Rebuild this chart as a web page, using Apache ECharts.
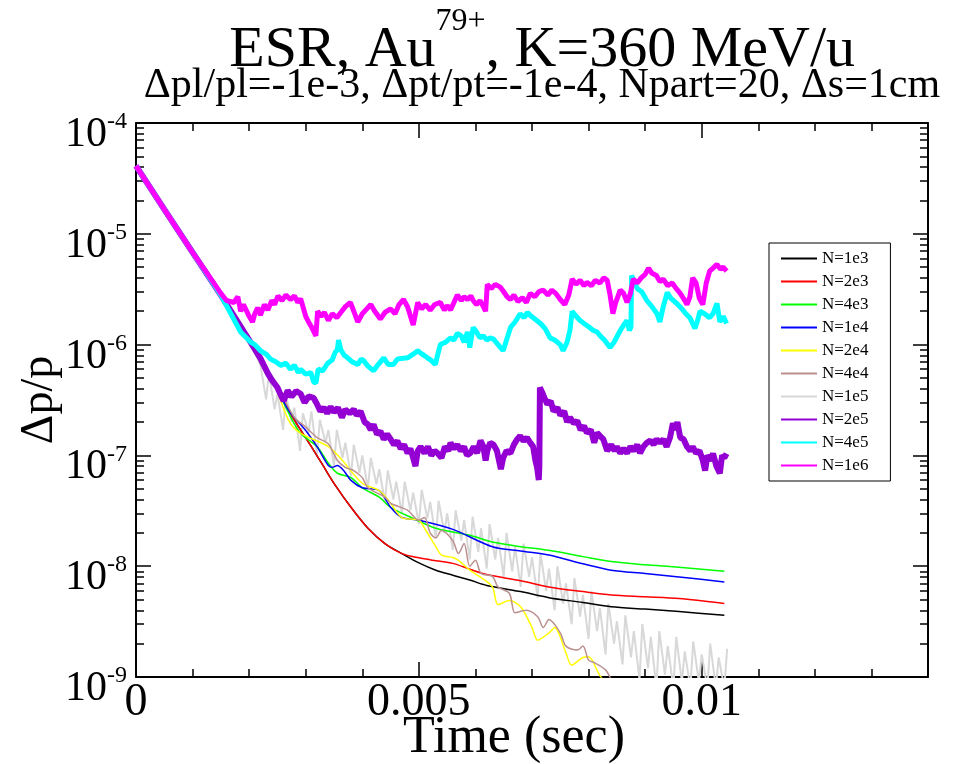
<!DOCTYPE html>
<html>
<head>
<meta charset="utf-8">
<script src="https://cdn.jsdelivr.net/npm/echarts@6/dist/echarts.min.js"></script>
<style>
html, body { margin: 0; padding: 0; background: #fff; }
#chart { width: 955px; height: 764px; }
</style>
</head>
<body>
<div id="chart"></div>
<script>
// 読み取った値 [時間(sec), Δp/p]
const N1e3 = [[0,4.1e-5],[0.0005,1.66e-5],[0.001,6.8e-6],[0.0015,2.8e-6],[0.002,1.1e-6],[0.0024,5.0e-7],[0.00275,2.3e-7],[0.0031,1.2e-7],[0.0033,8.2e-8],[0.0035,5.6e-8],[0.0038,3.4e-8],[0.0041,2.2e-8],[0.0044,1.6e-8],[0.0047,1.3e-8],[0.005,1.07e-8],[0.0053,9.2e-9],[0.0056,8.3e-9],[0.0059,7.5e-9],[0.0062,6.7e-9],[0.0068,5.9e-9],[0.0073,5.2e-9],[0.0079,4.7e-9],[0.0084,4.3e-9],[0.009,4.1e-9],[0.0096,3.9e-9],[0.0104,3.6e-9]];
const N2e3 = [[0,4.1e-5],[0.0005,1.66e-5],[0.001,6.8e-6],[0.0015,2.8e-6],[0.002,1.1e-6],[0.0024,5.0e-7],[0.00275,2.3e-7],[0.0031,1.2e-7],[0.0033,8.2e-8],[0.0035,5.6e-8],[0.0038,3.4e-8],[0.0041,2.2e-8],[0.0044,1.6e-8],[0.0047,1.3e-8],[0.005,1.19e-8],[0.0053,1.12e-8],[0.0056,1.06e-8],[0.0059,9.4e-9],[0.0062,8.4e-9],[0.0068,7.4e-9],[0.0073,6.5e-9],[0.0079,5.9e-9],[0.0084,5.5e-9],[0.009,5.3e-9],[0.0096,5.1e-9],[0.0104,4.6e-9]];
const N4e3 = [[0,4.1e-5],[0.0005,1.66e-5],[0.001,6.8e-6],[0.0015,2.8e-6],[0.002,1.1e-6],[0.0024,5.0e-7],[0.0027,2.4e-7],[0.0029,1.6e-7],[0.0032,1.2e-7],[0.0034,8.5e-8],[0.00356,6.9e-8],[0.0038,6.3e-8],[0.004,5.1e-8],[0.0043,4.2e-8],[0.0045,3.4e-8],[0.0049,2.7e-8],[0.0053,2.2e-8],[0.0059,1.9e-8],[0.0063,1.65e-8],[0.0068,1.5e-8],[0.0073,1.39e-8],[0.0079,1.22e-8],[0.0084,1.1e-8],[0.009,1.03e-8],[0.0096,9.8e-9],[0.0104,9.0e-9]];
const N1e4 = [[0,4.1e-5],[0.0005,1.66e-5],[0.001,6.8e-6],[0.0015,2.8e-6],[0.002,1.1e-6],[0.0024,5.0e-7],[0.0027,2.54e-7],[0.003,1.68e-7],[0.0032,1.2e-7],[0.0034,8.1e-8],[0.00347,7.8e-8],[0.00356,8.1e-8],[0.00367,7.3e-8],[0.0038,5.95e-8],[0.004,5.1e-8],[0.0043,4.8e-8],[0.0045,3.4e-8],[0.0047,2.75e-8],[0.005,2.6e-8],[0.0056,2.15e-8],[0.0063,1.5e-8],[0.0068,1.37e-8],[0.0073,1.26e-8],[0.0079,1.05e-8],[0.0084,9.2e-9],[0.009,8.6e-9],[0.0096,8.0e-9],[0.0104,7.2e-9]];
const N2e4 = [[0,4.1e-5],[0.0005,1.66e-5],[0.001,6.8e-6],[0.0015,2.8e-6],[0.002,1.1e-6],[0.0024,5.0e-7],[0.0027,2.06e-7],[0.0029,1.6e-7],[0.0034,1.2e-7],[0.0036,9.6e-8],[0.004,5.6e-8],[0.0043,4.8e-8],[0.0045,3.7e-8],[0.0047,2.75e-8],[0.005,2.6e-8],[0.0051,2.2e-8],[0.0053,1.5e-8],[0.0054,1.26e-8],[0.0056,1.2e-8],[0.0057,1.13e-8],[0.0059,9.2e-9],[0.0061,7.9e-9],[0.0063,6.5e-9],[0.0064,4.5e-9],[0.0066,4.9e-9],[0.0068,4.3e-9],[0.007,2.8e-9],[0.0071,2.15e-9],[0.0073,2.5e-9],[0.0074,2.8e-9],[0.0076,1.65e-9],[0.0077,1.28e-9],[0.0079,1.5e-9],[0.008,1.52e-9],[0.0082,1.03e-9],[0.0083,9.0e-10]];
const N4e4 = [[0,4.1e-5],[0.0005,1.66e-5],[0.001,6.8e-6],[0.0015,2.8e-6],[0.002,1.1e-6],[0.0025,4.2e-7],[0.0028,2.2e-7],[0.003,1.8e-7],[0.0032,1.45e-7],[0.0034,1.27e-7],[0.00356,9e-8],[0.0037,7.8e-8],[0.00385,7.3e-8],[0.004,6.3e-8],[0.0041,5.1e-8],[0.0044,4.2e-8],[0.0045,3.7e-8],[0.0048,3.2e-8],[0.005,2.6e-8],[0.0051,2.75e-8],[0.0052,2e-8],[0.0053,1.8e-8],[0.0054,2.1e-8],[0.0056,1.7e-8],[0.0057,1.3e-8],[0.0058,1.6e-8],[0.0059,1.0e-8],[0.006,1.13e-8],[0.0061,8.6e-9],[0.0063,8.1e-9],[0.0064,6.5e-9],[0.0066,5.7e-9],[0.0067,3.8e-9],[0.0069,4.0e-9],[0.0071,3.5e-9],[0.0072,2.8e-9],[0.0073,3.3e-9],[0.0075,2.5e-9],[0.0076,1.9e-9],[0.0078,1.75e-9],[0.0079,1.9e-9],[0.008,1.42e-9],[0.0081,1.35e-9],[0.0083,1.16e-9],[0.0084,9.4e-10]];
const N1e5 = [[0,4.1e-5],[0.0005,1.66e-5],[0.001,6.8e-6],[0.0015,2.8e-6],[0.002,1.1e-6],[0.0022,6.5e-7],[0.0023,3.2e-7],[0.00235,5.5e-7],[0.00245,2.6e-7],[0.0025,3.6e-7],[0.0026,1.7e-7],[0.00265,3.6e-7],[0.00275,2.0e-7],[0.0028,2.7e-7],[0.0029,1.1e-7],[0.00295,2.4e-7],[0.00305,1.6e-7],[0.0031,2.5e-7],[0.0032,1.0e-7],[0.00325,2.1e-7],[0.00335,1.3e-7],[0.0034,1.7e-7],[0.0035,8e-8],[0.00355,1.7e-7],[0.00365,9.5e-8],[0.0037,1.3e-7],[0.0038,6.5e-8],[0.00385,1.25e-7],[0.00395,7e-8],[0.004,1.0e-7],[0.0041,5e-8],[0.00415,9.5e-8],[0.00425,5.5e-8],[0.0043,7.5e-8],[0.0044,3.8e-8],[0.00445,7.3e-8],[0.00455,4.0e-8],[0.0046,5.8e-8],[0.0047,3.0e-8],[0.00475,5.8e-8],[0.00485,3.2e-8],[0.0049,4.6e-8],[0.005,2.4e-8],[0.00505,4.9e-8],[0.00515,2.7e-8],[0.0052,3.8e-8],[0.0053,1.8e-8],[0.00535,3.9e-8],[0.00545,2.0e-8],[0.0055,3.0e-8],[0.0056,1.4e-8],[0.00565,3.2e-8],[0.00575,1.7e-8],[0.0058,2.6e-8],[0.0059,1.15e-8],[0.00595,2.8e-8],[0.00605,1.35e-8],[0.0061,2.2e-8],[0.0062,9.5e-9],[0.00625,2.4e-8],[0.00635,1.15e-8],[0.0064,1.8e-8],[0.0065,8e-9],[0.00655,2.0e-8],[0.00665,9e-9],[0.0067,1.5e-8],[0.0068,6.5e-9],[0.00685,1.6e-8],[0.00695,8e-9],[0.007,1.2e-8],[0.0071,5.2e-9],[0.00715,1.3e-8],[0.00725,6e-9],[0.0073,9.5e-9],[0.0074,4.0e-9],[0.00745,1.0e-8],[0.00755,4.6e-9],[0.0076,7e-9],[0.0077,3.0e-9],[0.00775,7.8e-9],[0.00785,3.5e-9],[0.0079,5.5e-9],[0.008,2.2e-9],[0.00805,6e-9],[0.00815,2.6e-9],[0.0082,4.2e-9],[0.0083,1.6e-9],[0.00835,4.6e-9],[0.00845,2.0e-9],[0.0085,3.2e-9],[0.0086,1.3e-9],[0.00865,3.6e-9],[0.00875,1.5e-9],[0.0088,2.6e-9],[0.0089,9.5e-10],[0.00895,3.0e-9],[0.00905,1.2e-9],[0.0091,2.3e-9],[0.0092,8e-10],[0.00925,2.6e-9],[0.00935,1.05e-9],[0.0094,1.9e-9],[0.0095,8e-10],[0.00955,2.3e-9],[0.00965,9e-10],[0.0097,1.7e-9],[0.0098,8e-10],[0.00985,2.1e-9],[0.00995,9e-10],[0.01,1.6e-9],[0.0101,8e-10],[0.01015,2.0e-9],[0.01025,8e-10],[0.0103,1.5e-9],[0.0104,8e-10],[0.01045,1.8e-9]];
const N2e5 = [[0,4.1e-5],[0.0005,1.66e-5],[0.001,6.8e-6],[0.0015,2.8e-6],[0.002,1.1e-6],[0.0022,7.5e-7],[0.00233,5.5e-7],[0.0024,4.8e-7],[0.0025,4.1e-7],[0.00256,3.5e-7],[0.00261,3.1e-7],[0.00268,3.85e-7],[0.00275,3.4e-7],[0.00283,3.8e-7],[0.00291,3.6e-7],[0.00298,3.0e-7],[0.00305,3.4e-7],[0.00314,3.3e-7],[0.0032,2.9e-7],[0.00326,2.5e-7],[0.00332,2.7e-7],[0.00338,2.4e-7],[0.00344,2.75e-7],[0.0035,2.45e-7],[0.00357,2.7e-7],[0.00364,2.2e-7],[0.0037,2.6e-7],[0.00378,2.4e-7],[0.00385,2.6e-7],[0.0039,2.3e-7],[0.00397,2.5e-7],[0.00404,2.0e-7],[0.0041,1.9e-7],[0.00415,1.7e-7],[0.0042,1.9e-7],[0.00426,1.55e-7],[0.00432,1.65e-7],[0.00438,1.4e-7],[0.00444,1.55e-7],[0.0045,1.4e-7],[0.00456,1.25e-7],[0.00462,1.35e-7],[0.00468,1.15e-7],[0.00474,1.25e-7],[0.0048,1.05e-7],[0.00485,1.15e-7],[0.0049,9.5e-8],[0.00494,8.0e-8],[0.00498,1.1e-7],[0.00503,1.2e-7],[0.0051,1.05e-7],[0.00516,1.2e-7],[0.00522,1.0e-7],[0.00528,1.1e-7],[0.00533,1.05e-7],[0.0054,9.5e-8],[0.00546,1.2e-7],[0.00552,1.1e-7],[0.00556,1.3e-7],[0.00562,1.15e-7],[0.00568,1.25e-7],[0.00574,1.1e-7],[0.0058,1.2e-7],[0.00585,1.0e-7],[0.00591,1.05e-7],[0.00597,1.2e-7],[0.00603,1.05e-7],[0.00609,1.36e-7],[0.00614,1.2e-7],[0.00618,9.0e-8],[0.00621,1.1e-7],[0.00626,1.3e-7],[0.00632,1.25e-7],[0.00638,1.1e-7],[0.00645,7.5e-8],[0.00649,9.5e-8],[0.00655,1.1e-7],[0.00662,1.05e-7],[0.00668,1.25e-7],[0.00674,1.4e-7],[0.00679,1.5e-7],[0.00685,1.35e-7],[0.00691,1.45e-7],[0.00697,1.3e-7],[0.00702,1.2e-7],[0.00706,9.0e-8],[0.00709,7.8e-8],[0.00712,6.0e-8],[0.00713,8.0e-8],[0.00714,4.1e-7],[0.00718,3.7e-7],[0.00722,3.3e-7],[0.00727,2.9e-7],[0.00733,3.1e-7],[0.00738,2.5e-7],[0.00745,2.7e-7],[0.0075,2.3e-7],[0.00757,2.5e-7],[0.00762,2.0e-7],[0.00767,2.2e-7],[0.00774,1.95e-7],[0.0078,2.05e-7],[0.00786,1.7e-7],[0.00792,1.85e-7],[0.00797,1.6e-7],[0.00804,1.7e-7],[0.0081,1.3e-7],[0.00815,1.6e-7],[0.0082,1.5e-7],[0.00826,1.4e-7],[0.00833,1.1e-7],[0.0084,1.25e-7],[0.00846,1.1e-7],[0.0085,1.2e-7],[0.00856,1.05e-7],[0.00862,1.15e-7],[0.00868,1.05e-7],[0.00874,1.2e-7],[0.0088,1.1e-7],[0.00886,1.25e-7],[0.00891,1.05e-7],[0.00897,1.2e-7],[0.00903,1.3e-7],[0.00909,1.36e-7],[0.00915,1.25e-7],[0.0092,1.4e-7],[0.00926,1.3e-7],[0.00932,1.4e-7],[0.00938,1.2e-7],[0.00944,1.45e-7],[0.00949,1.95e-7],[0.00953,1.7e-7],[0.00957,2.0e-7],[0.00962,1.45e-7],[0.00968,1.4e-7],[0.00974,1.2e-7],[0.0098,1.1e-7],[0.00984,1.2e-7],[0.0099,1.05e-7],[0.00996,1.1e-7],[0.01002,9.0e-8],[0.01006,7.3e-8],[0.0101,1.0e-7],[0.01016,9.0e-8],[0.0102,1.04e-7],[0.01026,8.0e-8],[0.01032,6.9e-8],[0.01036,1.0e-7],[0.0104,9.5e-8],[0.01044,1.04e-7]];
const N4e5 = [[0,4.1e-5],[0.0005,1.66e-5],[0.001,6.8e-6],[0.0015,2.8e-6],[0.00185,1.3e-6],[0.00203,1.05e-6],[0.0021,1.0e-6],[0.0022,8.8e-7],[0.0023,8.2e-7],[0.00238,7.4e-7],[0.00247,7.0e-7],[0.00256,6.5e-7],[0.00265,6.8e-7],[0.00273,6.0e-7],[0.0028,6.5e-7],[0.00287,5.6e-7],[0.00291,6.0e-7],[0.003,5.4e-7],[0.00309,5.6e-7],[0.00314,4.6e-7],[0.00318,4.5e-7],[0.00322,6.0e-7],[0.0033,5.8e-7],[0.00339,6.8e-7],[0.00347,7.3e-7],[0.00352,8.5e-7],[0.00356,9.0e-7],[0.00358,1.1e-6],[0.00362,9.0e-7],[0.00368,8.0e-7],[0.00374,7.6e-7],[0.00382,7.0e-7],[0.00392,6.6e-7],[0.00398,7.4e-7],[0.00402,7.2e-7],[0.0041,6.4e-7],[0.0042,5.8e-7],[0.00428,6.6e-7],[0.00438,7.6e-7],[0.00446,6.6e-7],[0.00455,6.6e-7],[0.00462,7.4e-7],[0.0048,7.6e-7],[0.0049,8.2e-7],[0.00498,8.8e-7],[0.00506,8.2e-7],[0.00515,7.6e-7],[0.00522,7.2e-7],[0.00529,6.6e-7],[0.00533,8.0e-7],[0.00538,1.0e-6],[0.00547,1.05e-6],[0.00556,1.15e-6],[0.00562,1.1e-6],[0.00568,1.26e-6],[0.00575,1.2e-6],[0.0058,1.05e-6],[0.00586,1.3e-6],[0.0059,9.4e-7],[0.00596,1.43e-6],[0.00602,1.3e-6],[0.00608,1.15e-6],[0.00614,1.2e-6],[0.0062,1.1e-6],[0.00626,1.15e-6],[0.00632,1.12e-6],[0.0064,1.0e-6],[0.00649,8.8e-7],[0.00655,1.1e-6],[0.00662,1.43e-6],[0.0067,1.6e-6],[0.00679,1.9e-6],[0.00686,1.75e-6],[0.00692,1.95e-6],[0.00697,1.83e-6],[0.00705,1.7e-6],[0.00715,1.55e-6],[0.00723,1.4e-6],[0.00732,1.15e-6],[0.0074,1.1e-6],[0.0075,1.0e-6],[0.00755,8.8e-7],[0.00762,1.05e-6],[0.00767,1.34e-6],[0.00771,2.0e-6],[0.00778,1.8e-6],[0.00785,1.65e-6],[0.00792,1.55e-6],[0.008,1.45e-6],[0.00808,1.35e-6],[0.00815,1.3e-6],[0.0082,1.21e-6],[0.00828,1.1e-6],[0.00838,9.4e-7],[0.00845,1.05e-6],[0.00856,1.34e-6],[0.00862,1.5e-6],[0.00868,1.65e-6],[0.00872,1.34e-6],[0.00875,1.45e-6],[0.00876,4.2e-6],[0.00882,3.6e-6],[0.00886,3.2e-6],[0.00894,3.0e-6],[0.00903,2.5e-6],[0.00912,2.2e-6],[0.00921,1.9e-6],[0.00926,1.6e-6],[0.00932,2.2e-6],[0.00939,2.95e-6],[0.00946,2.6e-6],[0.00956,2.35e-6],[0.00965,2.1e-6],[0.00972,1.9e-6],[0.00979,1.75e-6],[0.00988,1.4e-6],[0.00992,1.6e-6],[0.00997,2.0e-6],[0.01005,1.9e-6],[0.01014,1.75e-6],[0.0102,1.9e-6],[0.01027,2.35e-6],[0.01032,1.6e-6],[0.01038,1.8e-6],[0.01044,1.55e-6]];
const N1e6 = [[0,4.1e-5],[0.0005,1.66e-5],[0.001,6.8e-6],[0.0015,2.9e-6],[0.0016,2.5e-6],[0.00173,2.4e-6],[0.0018,2.7e-6],[0.00185,2.0e-6],[0.0019,2.3e-6],[0.002,1.8e-6],[0.00206,1.6e-6],[0.0021,1.9e-6],[0.00215,2.15e-6],[0.0022,1.85e-6],[0.00227,2.3e-6],[0.00233,2.05e-6],[0.0024,2.5e-6],[0.00245,2.3e-6],[0.00251,2.75e-6],[0.00258,2.5e-6],[0.00265,2.8e-6],[0.00273,2.55e-6],[0.0028,2.75e-6],[0.00286,2.4e-6],[0.00291,2.6e-6],[0.003,1.8e-6],[0.00305,1.6e-6],[0.0031,1.45e-6],[0.00318,1.2e-6],[0.00321,2.0e-6],[0.00327,1.8e-6],[0.00333,1.95e-6],[0.0034,1.65e-6],[0.00347,1.9e-6],[0.00355,1.75e-6],[0.00362,1.95e-6],[0.0037,2.2e-6],[0.00379,2.4e-6],[0.00385,2.0e-6],[0.00392,1.6e-6],[0.004,1.9e-6],[0.00408,2.1e-6],[0.00415,2.3e-6],[0.00422,2.0e-6],[0.00432,1.7e-6],[0.0044,1.95e-6],[0.0045,2.1e-6],[0.00458,1.9e-6],[0.00465,2.3e-6],[0.00473,2.55e-6],[0.0048,2.2e-6],[0.0049,1.5e-6],[0.00498,2.4e-6],[0.00505,2.1e-6],[0.00512,2.3e-6],[0.0052,2.05e-6],[0.00528,2.3e-6],[0.00538,2.4e-6],[0.00545,2.05e-6],[0.0055,2.25e-6],[0.00556,2.05e-6],[0.00562,2.4e-6],[0.00568,2.8e-6],[0.00575,2.5e-6],[0.0058,2.7e-6],[0.00586,2.55e-6],[0.00592,2.75e-6],[0.00596,2.5e-6],[0.00602,2.3e-6],[0.00608,2.5e-6],[0.00614,2.2e-6],[0.00618,2.0e-6],[0.00621,3.5e-6],[0.00628,3.2e-6],[0.00635,3.5e-6],[0.00644,3.3e-6],[0.0065,3.0e-6],[0.00656,2.7e-6],[0.00662,2.55e-6],[0.00668,2.8e-6],[0.00675,2.45e-6],[0.00683,2.65e-6],[0.0069,2.4e-6],[0.00697,2.9e-6],[0.00705,2.7e-6],[0.00712,3.0e-6],[0.0072,3.1e-6],[0.00728,2.8e-6],[0.00735,3.1e-6],[0.00742,2.9e-6],[0.0075,2.55e-6],[0.00758,2.3e-6],[0.00765,2.8e-6],[0.00771,3.9e-6],[0.00778,3.5e-6],[0.00785,3.8e-6],[0.00792,3.4e-6],[0.00797,3.65e-6],[0.00805,3.4e-6],[0.00812,3.8e-6],[0.0082,3.6e-6],[0.00827,4.0e-6],[0.00833,3.8e-6],[0.00838,2.8e-6],[0.00843,1.9e-6],[0.00848,2.4e-6],[0.00856,3.1e-6],[0.00862,2.9e-6],[0.00868,2.4e-6],[0.00874,2.9e-6],[0.00879,3.9e-6],[0.00886,3.6e-6],[0.00893,4.0e-6],[0.009,4.3e-6],[0.00906,4.9e-6],[0.00912,4.4e-6],[0.0092,4.2e-6],[0.00926,3.7e-6],[0.00932,3.9e-6],[0.0094,3.4e-6],[0.00948,3.6e-6],[0.00955,3.2e-6],[0.00962,2.9e-6],[0.00968,2.6e-6],[0.00974,2.3e-6],[0.00979,2.7e-6],[0.00984,4.0e-6],[0.0099,3.6e-6],[0.00996,2.6e-6],[0.01002,2.3e-6],[0.01008,3.6e-6],[0.01014,4.6e-6],[0.0102,4.9e-6],[0.01027,5.3e-6],[0.01033,4.8e-6],[0.01038,5.0e-6],[0.01044,4.6e-6]];

const seriesNames = ['N=1e3', 'N=2e3', 'N=4e3', 'N=1e4', 'N=2e4', 'N=4e4', 'N=1e5', 'N=2e5', 'N=4e5', 'N=1e6'];
const seriesData = [N1e3, N2e3, N4e3, N1e4, N2e4, N4e4, N1e5, N2e5, N4e5, N1e6];
const seriesColors = ['#000000', '#ff0000', '#00ff00', '#0000ff', '#ffff00', '#bc8f8f', '#d8d8d8', '#9400d3', '#00ffff', '#ff00ff'];
const seriesWidths = [1.5, 1.5, 1.5, 1.5, 1.5, 1.5, 2, 6, 5, 5];
const seriesSmooth = [0.3, 0.3, 0.3, 0.3, 0.3, 0.3, false, false, false, false];

const xMajorTicks = 0.005;
const xMinorTicks = 0.001;
const yMinorTicks = [];
[-9, -8, -7, -6, -5].forEach(e => {
    for (let m = 2; m <= 9; m++) yMinorTicks.push(m * Math.pow(10, e));
});

const FONT = '"Liberation Serif", "DejaVu Serif", serif';
const AXIS_COLOR = '#000';

// x軸 (主目盛/副目盛, 下/上)
function makeXAxis(position, major) {
    return {
        type: 'value',
        position: position,
        min: 0,
        max: 0.014,
        interval: major ? xMajorTicks : xMinorTicks,
        name: position === 'bottom' && major ? 'Time (sec)' : '',
        nameLocation: 'middle',
        nameGap: 35,
        nameMoveOverlap: false,
        nameTextStyle: { fontFamily: FONT, fontSize: 52, color: '#000', padding: [0, 36, 0, 0] },
        axisLine: { show: major, onZero: false, lineStyle: { color: AXIS_COLOR, width: 2 } },
        axisTick: { show: true, inside: true, length: major ? 15 : 8, lineStyle: { color: AXIS_COLOR, width: 1.5 } },
        axisLabel: {
            show: position === 'bottom' && major,
            showMaxLabel: false,
            margin: 3,
            fontFamily: FONT,
            fontSize: 46,
            color: '#000',
            formatter: v => String(parseFloat(v.toFixed(3)))
        },
        splitLine: { show: false }
    };
}

// y軸 (対数)
function makeYAxis(position, major) {
    const axis = {
        type: 'log',
        logBase: 10,
        position: position,
        min: 1e-9,
        max: 1e-4,
        name: position === 'left' && major ? 'Δp/p' : '',
        nameLocation: 'middle',
        nameGap: 73,
        nameMoveOverlap: false,
        nameTextStyle: { fontFamily: FONT, fontSize: 46, color: '#000' },
        axisLine: { show: major, onZero: false, lineStyle: { color: AXIS_COLOR, width: 2 } },
        axisTick: { show: true, inside: true, length: major ? 15 : 8, lineStyle: { color: AXIS_COLOR, width: 1.5 } },
        axisLabel: {
            show: position === 'left' && major,
            margin: 9,
            padding: [20, 0, 0, 0],
            formatter: v => '{h| }{b|10}{s|' + Math.round(Math.log10(v)) + '}',
            rich: {
                h: { fontSize: 1, lineHeight: 46 },
                b: { fontFamily: FONT, fontSize: 42, lineHeight: 42, color: '#000', verticalAlign: 'bottom' },
                s: { fontFamily: FONT, fontSize: 24, lineHeight: 24, color: '#000', verticalAlign: 'top' }
            }
        },
        splitLine: { show: false }
    };
    if (!major) axis.axisTick.customValues = yMinorTicks;
    return axis;
}

const chart = echarts.init(document.getElementById('chart'));

const option = {
    animation: false,
    backgroundColor: '#fff',
    title: [
        {
            text: '{h| }{a|ESR, Au}{sup|79+}{a|, K=360 MeV/u}',
            left: 542,
            top: 6,
            padding: 0,
            textAlign: 'center',
            textStyle: {
                fontWeight: 'normal',
                rich: {
                    h: { fontSize: 1, lineHeight: 74 },
                    a: { fontFamily: FONT, fontSize: 58, lineHeight: 58, fontWeight: 'normal', color: '#000', verticalAlign: 'bottom' },
                    sup: { fontFamily: FONT, fontSize: 32, lineHeight: 32, fontWeight: 'normal', color: '#000', verticalAlign: 'top' }
                }
            }
        },
        {
            text: 'Δpl/pl=-1e-3, Δpt/pt=-1e-4, Npart=20, Δs=1cm',
            left: 542,
            top: 65,
            padding: 0,
            textAlign: 'center',
            textStyle: { fontFamily: FONT, fontSize: 42, lineHeight: 42, fontWeight: 'normal', color: '#000' }
        }
    ],
    legend: {
        orient: 'vertical',
        left: 769,
        top: 243,
        padding: [7, 22, 7, 12],
        itemGap: 6,
        itemWidth: 36,
        itemHeight: 2,
        icon: 'rect',
        backgroundColor: '#fff',
        borderColor: '#000',
        borderWidth: 1,
        textStyle: { fontFamily: FONT, fontSize: 17, color: '#000' },
        data: seriesNames
    },
    grid: { left: 136, right: 27, top: 123, bottom: 87, outerBoundsMode: 'none' },
    xAxis: [makeXAxis('bottom', true), makeXAxis('bottom', false), makeXAxis('top', true), makeXAxis('top', false)],
    yAxis: [makeYAxis('left', true), makeYAxis('left', false), makeYAxis('right', true), makeYAxis('right', false)],
    series: seriesNames.map((name, i) => ({
        name: name,
        type: 'line',
        xAxisIndex: 0,
        yAxisIndex: 0,
        data: seriesData[i],
        symbol: 'none',
        smooth: seriesSmooth[i],
        clip: true,
        z: i === 6 ? 1 : 2,
        lineStyle: { color: seriesColors[i], width: seriesWidths[i] },
        itemStyle: { color: seriesColors[i] }
    }))
};

chart.setOption(option);
</script>
</body>
</html>
